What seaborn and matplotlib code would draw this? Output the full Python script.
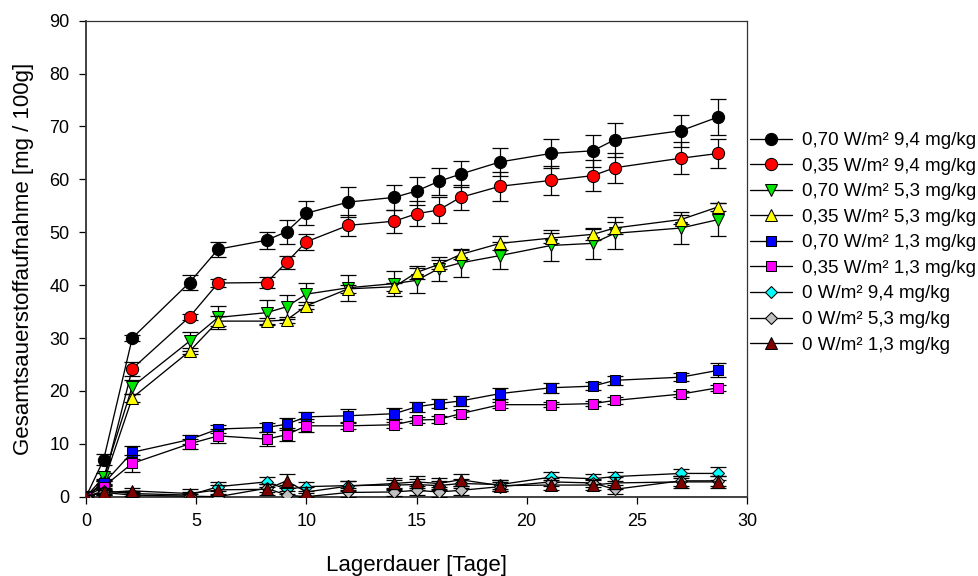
import numpy as np
import pandas as pd
import matplotlib
matplotlib.use("Agg")
import matplotlib.pyplot as plt
from matplotlib.lines import Line2D
import seaborn as sns

# storage days (x) shared by all series
days = [0, 0.8, 2.1, 4.7, 6.0, 8.2, 9.1, 10.0, 11.9, 14.0, 15.0, 16.0, 17.0,
        18.8, 21.1, 23.0, 24.0, 27.0, 28.7]

labels = ["0,70 W/m² 9,4 mg/kg", "0,35 W/m² 9,4 mg/kg", "0,70 W/m² 5,3 mg/kg",
          "0,35 W/m² 5,3 mg/kg", "0,70 W/m² 1,3 mg/kg", "0,35 W/m² 1,3 mg/kg",
          "0 W/m² 9,4 mg/kg", "0 W/m² 5,3 mg/kg", "0 W/m² 1,3 mg/kg"]

o2_070_94 = [0, 7.0, 30.0, 40.5, 46.8, 48.5, 50.1, 53.6, 55.7, 56.6, 57.8, 59.6, 61.0,
             63.3, 64.9, 65.4, 67.5, 69.2, 71.8]
o2_035_94 = [0, 2.8, 24.2, 34.0, 40.4, 40.5, 44.3, 48.2, 51.3, 52.1, 53.5, 54.2, 56.6,
             58.7, 59.8, 60.7, 62.2, 64.0, 64.9]
o2_070_53 = [0, 3.7, 20.8, 29.4, 33.9, 34.8, 35.9, 38.3, 39.5, 40.3, 40.9, 43.1, 44.2,
             45.6, 47.5, 47.9, 49.8, 50.8, 52.4]
o2_035_53 = [0, 2.7, 18.7, 27.5, 33.2, 33.2, 33.4, 36.1, 39.3, 39.7, 42.4, 43.9, 45.8,
             47.9, 48.9, 49.6, 50.8, 52.4, 54.8]
o2_070_13 = [0, 2.5, 8.4, 10.8, 12.8, 13.1, 13.7, 15.1, 15.3, 15.7, 17.0, 17.6, 18.1,
             19.5, 20.6, 20.9, 22.0, 22.6, 23.9]
o2_035_13 = [0, 1.9, 6.3, 10.0, 11.5, 10.9, 11.7, 13.4, 13.4, 13.6, 14.5, 14.6, 15.7,
             17.4, 17.4, 17.6, 18.2, 19.4, 20.6]
o2_0_94 = [0, 1.1, 0.6, 0.3, 1.9, 2.8, 1.4, 1.9, 2.1, 2.2, 2.3, 2.1, 2.5,
           2.3, 3.7, 3.4, 3.8, 4.4, 4.4]
o2_0_53 = [0, 0.8, 0.3, 0.1, 0.0, 1.6, 0.3, 0.0, 0.8, 0.9, 1.2, 0.9, 1.2,
           1.9, 2.8, 2.6, 1.4, 3.0, 3.0]
o2_0_13 = [0, 0.8, 1.1, 0.6, 1.3, 1.4, 3.0, 0.9, 2.0, 2.5, 2.8, 2.5, 3.2,
           2.1, 2.2, 2.2, 2.6, 2.8, 2.8]

# standard deviations (half length of error bars)
sd_070_94 = [0.3, 1.0, 0.6, 1.4, 1.4, 1.6, 2.3, 2.3, 2.8, 2.4, 2.7, 2.6, 2.5,
             2.7, 2.8, 3.0, 3.2, 3.0, 3.4]
sd_035_94 = [0.3, 0.6, 1.3, 0.5, 0.8, 1.0, 1.3, 1.5, 2.0, 2.2, 2.4, 2.5, 2.4,
             2.7, 2.7, 2.9, 2.8, 3.0, 2.8]
sd_070_53 = [0.3, 0.8, 1.3, 1.8, 2.1, 2.4, 2.3, 2.1, 2.5, 2.3, 2.3, 2.3, 2.7,
             2.5, 2.9, 2.9, 3.0, 3.0, 3.1]
sd_035_53 = [0.3, 0.5, 0.8, 0.6, 1.0, 0.5, 0.6, 0.7, 0.8, 0.8, 1.2, 0.9, 0.8,
             1.3, 0.9, 1.0, 1.1, 0.9, 0.7]
sd_070_13 = [0.3, 0.5, 1.2, 0.8, 0.8, 0.9, 1.1, 1.0, 1.2, 1.1, 0.9, 0.9, 1.0,
             1.0, 0.9, 0.8, 0.9, 0.8, 1.3]
sd_035_13 = [0.3, 0.5, 1.6, 1.0, 1.3, 1.4, 1.2, 1.2, 0.6, 0.6, 0.6, 0.6, 0.6,
             0.6, 0.5, 0.5, 0.6, 0.6, 0.6]
sd_0_94 = [0.3, 0.5, 0.5, 0.5, 0.8, 0.9, 0.9, 0.8, 0.8, 0.9, 1.0, 0.9, 0.9,
           0.9, 0.9, 0.8, 0.9, 0.9, 1.2]
sd_0_53 = [0.3, 0.5, 0.5, 0.5, 0.6, 0.8, 0.8, 0.7, 0.8, 0.8, 0.9, 0.9, 0.9,
           0.9, 0.8, 0.8, 0.9, 0.9, 1.0]
sd_0_13 = [0.3, 0.5, 0.6, 0.8, 0.9, 1.0, 1.3, 0.9, 1.0, 1.1, 1.2, 1.0, 1.1,
           1.1, 1.0, 1.0, 1.1, 1.2, 1.2]

values = [o2_070_94, o2_035_94, o2_070_53, o2_035_53, o2_070_13, o2_035_13,
          o2_0_94, o2_0_53, o2_0_13]
errors = [sd_070_94, sd_035_94, sd_070_53, sd_035_53, sd_070_13, sd_035_13,
          sd_0_94, sd_0_53, sd_0_13]

colors = ["#000000", "#ff0000", "#00e600", "#ffff00", "#0000ff", "#ff00ff",
          "#00ffff", "#c0c0c0", "#800000"]
markers = ["o", "o", "v", "^", "s", "s", "D", "D", "^"]
msizes = [8.8, 8.8, 9.0, 9.0, 7.5, 7.5, 6.3, 6.3, 9.0]

sns.set_theme(style="ticks")
plt.rcParams["font.family"] = ["Liberation Sans", "DejaVu Sans"]
plt.rcParams["text.color"] = "black"
plt.rcParams["axes.labelcolor"] = "black"

fig = plt.figure(figsize=(9.79, 5.76), dpi=100)
ax = fig.add_axes([86 / 979, 1 - 496.7 / 576, (747 - 86) / 979, (496.7 - 20.7) / 576])

handles = []
for i, lab in enumerate(labels):
    df = pd.DataFrame({"Tage": days, "O2": values[i]})
    ax.errorbar(days, values[i], yerr=errors[i], fmt="none", ecolor="black",
                elinewidth=0.9, capsize=5.5, capthick=0.9, zorder=3 + i)
    sns.lineplot(data=df, x="Tage", y="O2", ax=ax, color="black", linewidth=0.95,
                 marker=markers[i], markersize=msizes[i], markerfacecolor=colors[i],
                 markeredgecolor="black", markeredgewidth=0.75, errorbar=None,
                 zorder=3.5 + i)
    handles.append(Line2D([], [], color="black", linewidth=0.95, marker=markers[i],
                          markersize=msizes[i], markerfacecolor=colors[i],
                          markeredgecolor="black", markeredgewidth=0.75, label=lab))

ax.set_xlim(0, 30)
ax.set_ylim(0, 90)
ax.set_xticks(range(0, 31, 5))
ax.set_yticks(range(0, 91, 10))
ax.tick_params(axis="both", direction="out", length=5, width=0.9, labelsize=13,
               pad=7, colors="black")
for s in ax.spines.values():
    s.set_color("#333333")
    s.set_linewidth(0.9)
ax.spines["left"].set_linewidth(1.3)
ax.spines["bottom"].set_linewidth(1.3)

ax.set_xlabel("Lagerdauer [Tage]", fontsize=16, labelpad=18)
ax.set_ylabel("Gesamtsauerstoffaufnahme [mg / 100g]", fontsize=16, labelpad=11)

fig.legend(handles=handles, loc="upper left", bbox_to_anchor=(750 / 979, 1 - 132 / 576),
           frameon=False, fontsize=13.5, handlelength=2.25, handletextpad=0.55,
           labelspacing=0.45, borderpad=0, borderaxespad=0)

fig.savefig("out.png", dpi=100)
